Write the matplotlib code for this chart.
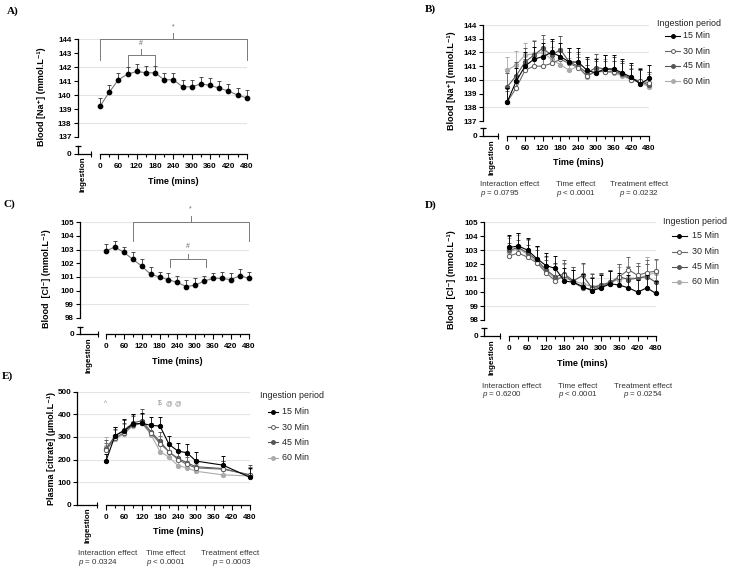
import matplotlib
matplotlib.use("Agg")
import matplotlib.pyplot as plt
from matplotlib.lines import Line2D

plt.rcParams['font.family'] = ['Liberation Sans', 'DejaVu Sans']
plt.rcParams['mathtext.fontset'] = 'custom'
plt.rcParams['mathtext.rm'] = 'Liberation Sans'
plt.rcParams['mathtext.it'] = 'Liberation Sans:italic'

W, H = 733, 572

# ---------------- data ----------------
times = [0, 30, 60, 90, 120, 150, 180, 210, 240, 270, 300, 330, 360, 390, 420, 450, 480]
times_E = [0, 30, 60, 90, 120, 150, 180, 210, 240, 270, 300, 390, 480]
x_major = [0, 60, 120, 180, 240, 300, 360, 420, 480]
x_minor = [30, 90, 150, 210, 270, 330, 390, 450]

legend_labels = ['15 Min', '30 Min', '45 Min', '60 Min']

# A) blood sodium, pooled
na_A = [139.2, 140.2, 141.1, 141.5, 141.7, 141.6, 141.6, 141.1, 141.1, 140.6, 140.6, 140.8, 140.7, 140.5, 140.3, 140.0, 139.8]
na_A_err = [0.6, 0.5, 0.5, 0.5, 0.5, 0.5, 0.5, 0.5, 0.5, 0.5, 0.5, 0.5, 0.5, 0.5, 0.5, 0.5, 0.6]

# B) blood sodium by ingestion period
na_B_15 = [138.4, 139.9, 141.0, 141.5, 141.7, 142.0, 141.7, 141.3, 141.3, 140.7, 140.5, 140.8, 140.8, 140.5, 140.2, 139.7, 140.1]
na_B_30 = [138.4, 139.4, 140.7, 141.0, 141.0, 141.2, 141.5, 141.2, 140.9, 140.3, 140.6, 140.6, 140.6, 140.4, 140.0, 139.9, 139.8]
na_B_45 = [139.5, 140.3, 141.3, 141.8, 142.3, 141.8, 142.2, 141.3, 141.0, 140.5, 140.9, 140.8, 140.7, 140.4, 140.1, 139.9, 139.6]
na_B_60 = [140.7, 141.1, 141.8, 141.9, 142.0, 141.5, 141.1, 140.7, 141.0, 140.2, 140.7, 140.6, 140.5, 140.3, 140.0, 139.8, 139.5]
na_B_15_err = [1.0, 1.0, 1.0, 0.9, 1.0, 1.0, 1.0, 1.0, 1.0, 1.0, 1.0, 1.0, 1.0, 1.0, 1.0, 1.1, 1.0]
na_B_30_err = [0.8, 0.8, 0.8, 0.8, 0.8, 0.8, 0.8, 0.8, 0.8, 0.8, 0.8, 0.8, 0.8, 0.8, 0.8, 0.8, 0.8]
na_B_45_err = [1.0, 1.0, 1.0, 1.0, 1.0, 1.0, 1.0, 1.0, 1.0, 1.0, 1.0, 1.0, 1.0, 1.0, 1.0, 1.0, 1.0]
na_B_60_err = [1.0, 1.0, 0.9, 1.0, 1.0, 0.9, 0.9, 0.9, 0.9, 0.9, 0.9, 0.9, 0.9, 0.9, 0.9, 0.9, 0.9]

# C) blood chloride, pooled
cl_C = [102.9, 103.2, 102.8, 102.3, 101.8, 101.2, 101.0, 100.8, 100.6, 100.3, 100.4, 100.7, 100.9, 100.9, 100.8, 101.1, 100.9]
cl_C_err = [0.5, 0.4, 0.4, 0.5, 0.5, 0.5, 0.4, 0.5, 0.5, 0.5, 0.5, 0.4, 0.4, 0.5, 0.5, 0.5, 0.5]

# D) blood chloride by ingestion period
cl_D_15 = [103.2, 103.3, 103.0, 102.4, 101.9, 101.7, 100.8, 100.7, 100.4, 100.1, 100.3, 100.6, 100.5, 100.3, 100.0, 100.3, 99.9]
cl_D_30 = [102.6, 102.8, 102.5, 102.1, 101.4, 100.8, 101.2, 100.7, 100.3, 100.2, 100.4, 100.6, 101.1, 101.6, 101.2, 101.4, 101.5]
cl_D_45 = [103.0, 103.2, 102.8, 102.3, 101.6, 101.1, 101.3, 100.8, 101.2, 100.3, 100.5, 100.7, 101.1, 100.9, 101.0, 101.1, 100.7]
cl_D_60 = [102.9, 103.1, 102.7, 102.2, 101.5, 101.0, 101.0, 100.8, 100.6, 100.4, 100.5, 100.7, 100.9, 101.0, 101.0, 101.2, 101.4]
cl_D_15_err = [0.9, 0.9, 0.9, 0.9, 0.9, 0.9, 0.9, 0.9, 0.9, 0.9, 0.9, 0.9, 0.9, 0.9, 0.9, 0.9, 0.9]
cl_D_30_err = [0.9, 0.9, 0.9, 0.9, 0.9, 0.9, 0.9, 0.9, 0.9, 0.9, 0.9, 0.9, 0.9, 0.9, 0.9, 0.9, 0.9]
cl_D_45_err = [1.0, 1.0, 1.0, 1.0, 1.0, 1.0, 1.0, 1.0, 0.9, 1.0, 0.9, 0.9, 0.9, 0.9, 0.9, 0.9, 0.9]
cl_D_60_err = [1.0, 1.0, 1.0, 1.0, 1.0, 1.0, 1.0, 1.0, 1.4, 1.0, 0.9, 0.9, 0.9, 0.9, 0.9, 1.3, 0.9]

# E) plasma citrate by ingestion period
cit_15 = [194, 305, 327, 357, 360, 351, 348, 267, 237, 230, 193, 175, 121]
cit_30 = [240, 295, 318, 353, 362, 318, 270, 235, 200, 178, 163, 157, 133]
cit_45 = [246, 305, 330, 362, 372, 322, 280, 233, 205, 185, 168, 160, 130]
cit_60 = [256, 290, 313, 350, 360, 310, 235, 210, 173, 163, 148, 132, 127]
cit_15_err = [30, 40, 50, 45, 45, 38, 38, 37, 37, 40, 38, 40, 40]
cit_30_err = [35, 40, 45, 40, 40, 35, 35, 33, 33, 35, 33, 35, 35]
cit_45_err = [40, 40, 45, 40, 50, 40, 40, 35, 35, 35, 35, 35, 45]
cit_60_err = [45, 40, 45, 45, 40, 35, 35, 30, 30, 30, 30, 30, 30]

stat_titles = ['Interaction effect', 'Time effect', 'Treatment effect']
stats_B = ['= 0.0795', '< 0.0001', '= 0.0232']
stats_D = ['= 0.6200', '< 0.0001', '= 0.0254']
stats_E = ['= 0.0324', '< 0.0001', '= 0.0003']

E_marks = ['^', '$', '@', '@']
E_mark_times = [0, 180, 210, 240]

# ---------------- helpers ----------------
FS_TICK = 5.8
FS_LAB = 6.5
FS_LEG = 6.4
FS_STAT = 5.8

fig = plt.figure(figsize=(W / 100, H / 100), dpi=100)


def rect(x0, y0, x1, y1):
    return [x0 / W, 1 - y1 / H, (x1 - x0) / W, (y1 - y0) / H]


def ftxt(x, y, s, **kw):
    return fig.text(x / W, 1 - y / H, s, **kw)


def bold_ticks(ax):
    for lab in ax.get_xticklabels() + ax.get_yticklabels():
        lab.set_fontweight('bold')


def panel(L, ylo, yhi, yticks, grid, ylabel, broken=True):
    span = 480.0 / (L['x480'] - L['x0'])
    xmin = -(L['x0'] - L['xl']) * span
    ybot = L['ylo'] if broken else L['y0']
    ax = fig.add_axes(rect(L['xl'], L['yhi'], L['x480'], ybot))
    ax.set_xlim(xmin, 480)
    ax.set_ylim(ylo, yhi)
    ax.patch.set_alpha(0)
    for s in ('top', 'right'):
        ax.spines[s].set_visible(False)
    ax.spines['left'].set_linewidth(0.9)
    ax.set_yticks(yticks)
    ax.tick_params(axis='y', length=2.8, width=0.8, pad=1.6, labelsize=FS_TICK)
    for g in grid:
        ax.axhline(g, color='#e4e4e4', lw=0.8, zorder=0)
    if broken:
        ax.spines['bottom'].set_visible(False)
        ax.set_xticks([])
        xa = fig.add_axes(rect(L['xl'], L['cap'], L['x480'], L['y0']))
        xa.set_xlim(xmin, 480)
        xa.set_ylim(0, 1)
        xa.patch.set_alpha(0)
        for s in ('top', 'right'):
            xa.spines[s].set_visible(False)
        xa.spines['left'].set_linewidth(0.9)
        xa.set_yticks([0])
        xa.tick_params(axis='y', length=2.8, width=0.8, pad=1.6, labelsize=FS_TICK)
        xa.plot([xmin], [1], marker='_', ms=5, mew=0.9, color='k', clip_on=False)
        bold_ticks(xa)
    else:
        xa = ax
    xa.spines['bottom'].set_linewidth(0.9)
    xa.spines['bottom'].set_bounds(0, 480)
    xa.set_xticks(x_major)
    xa.set_xticks(x_minor, minor=True)
    xa.tick_params(axis='x', which='major', length=3.5, width=0.8, pad=3, labelsize=FS_TICK)
    xa.tick_params(axis='x', which='minor', length=2, width=0.8)
    bold_ticks(ax)
    bold_ticks(xa)
    # ingestion segment
    ai = fig.add_axes(rect(L['xl'], L['y0'] - 1, L['ing'], L['y0']))
    ai.set_xlim(0, 1)
    ai.set_ylim(0, 1)
    ai.patch.set_alpha(0)
    for s in ('top', 'right', 'left'):
        ai.spines[s].set_visible(False)
    ai.spines['bottom'].set_linewidth(0.9)
    ai.set_yticks([])
    ai.set_xticks([1])
    ai.set_xticklabels([''])
    ai.tick_params(axis='x', direction='inout', length=5, width=0.8)
    ftxt(L['ingx'], L['y0'] + 3, 'Ingestion', rotation=90, ha='center', va='top',
         fontsize=FS_TICK, fontweight='bold')
    ftxt((L['x0'] + L['x480']) / 2, L['tl'], 'Time (mins)', ha='center', va='center',
         fontsize=FS_LAB, fontweight='bold')
    ftxt(L['ylx'], (L['yhi'] + L['y0']) / 2, ylabel, rotation=90, ha='center', va='center',
         fontsize=FS_LAB, fontweight='bold')
    return ax


STY = [
    dict(lc='black', ec='black', mfc='black', mec='black'),
    dict(lc='#6a6a6a', ec='#6a6a6a', mfc='white', mec='#5a5a5a'),
    dict(lc='#555555', ec='#555555', mfc='#555555', mec='#555555'),
    dict(lc='#ababab', ec='#ababab', mfc='#ababab', mec='#ababab'),
]


def draw(ax, t, m, e, st, z, ms=3.1):
    ax.errorbar(t, m, yerr=[[0] * len(e), e], color=st['lc'], ecolor=st['ec'],
                elinewidth=0.6, capsize=1.3, capthick=0.6, marker='o', ms=ms,
                mfc=st['mfc'], mec=st['mec'], mew=0.7, lw=0.8, zorder=z, clip_on=False)


def draw_groups(ax, t, means, errs):
    order = [3, 2, 1, 0]
    for k, i in enumerate(order):
        draw(ax, t, means[i], errs[i], STY[i], 3 + k)


def legend(tx, ty, hx0, hx1, lx, ys):
    ftxt(tx, ty, 'Ingestion period', fontsize=FS_LEG, va='center', ha='left', color='#222222')
    for lab, st, y in zip(legend_labels, STY, ys):
        yy = 1 - y / H
        fig.add_artist(Line2D([hx0 / W, (hx0 + hx1) / 2 / W, hx1 / W], [yy, yy, yy],
                              transform=fig.transFigure, color=st['lc'], lw=0.8,
                              marker='o', markevery=[1], ms=2.8, mfc=st['mfc'],
                              mec=st['mec'], mew=0.7))
        ftxt(lx, y, lab, fontsize=FS_LEG, va='center', ha='left', color='#222222')


def stats(xs_t, xs_p, yt, yp, vals):
    for s, x in zip(stat_titles, xs_t):
        ftxt(x, yt, s, fontsize=FS_STAT, va='center', ha='left', color='#333333')
    for v, x in zip(vals, xs_p):
        ftxt(x, yp, '$p$ ' + v, fontsize=FS_STAT, va='center', ha='left', color='#333333')


def bracket(ax, x1, x2, y, ydrop, ytick, ytext, label):
    c = '#7a7a7a'
    ax.plot([x1, x1, x2, x2], [ydrop, y, y, ydrop], color=c, lw=0.7, clip_on=False, zorder=2)
    mid = (x1 + x2) / 2
    ax.plot([mid, mid], [y, ytick], color=c, lw=0.7, clip_on=False, zorder=2)
    ax.text(mid, ytext, label, ha='center', va='center', fontsize=5, color='#666666')


def plabel(x, y, s):
    ftxt(x, y, s, fontsize=8, fontweight='bold', family='Liberation Serif', va='center', ha='left')


# ---------------- Panel A ----------------
LA = dict(xl=77.5, x0=100, x480=246.7, yhi=39.3, ylo=137, y0=153.7, cap=145.7,
          ing=90.7, ingx=83, tl=181, ylx=41.7)
axA = panel(LA, 137, 144, [137, 138, 139, 140, 141, 142, 143, 144], [138, 140, 142, 144],
            'Blood [Na⁺] (mmol.L⁻¹)')
axA.errorbar(times, na_A, yerr=[[0] * len(na_A_err), na_A_err], color='#7a7a7a', ecolor='#333333',
             elinewidth=0.6, capsize=1.3, capthick=0.6, marker='o', ms=3.1, mfc='black',
             mec='black', lw=0.8, zorder=3, clip_on=False)
bracket(axA, 0, 480, 144.0, 142.5, 144.43, 144.9, '*')
bracket(axA, 90, 180, 142.88, 142.1, 143.3, 143.7, '#')
plabel(6.7, 10.7, 'A)')

# ---------------- Panel B ----------------
LB = dict(xl=483.3, x0=507.3, x480=649, yhi=25, ylo=121, y0=136, cap=128,
          ing=498.3, ingx=491.7, tl=162.7, ylx=451.7)
axB = panel(LB, 137, 144, [137, 138, 139, 140, 141, 142, 143, 144], [138, 140, 142, 144],
            'Blood [Na⁺] (mmol.L⁻¹)')
draw_groups(axB, times, [na_B_15, na_B_30, na_B_45, na_B_60],
            [na_B_15_err, na_B_30_err, na_B_45_err, na_B_60_err])
legend(656.7, 24, 665, 680, 683, [36, 51, 66, 81])
stats([480, 555.7, 610], [480, 555.7, 619.3], 184.3, 193.3, stats_B)
plabel(425, 9, 'B)')

# ---------------- Panel C ----------------
LC = dict(xl=80, x0=106, x480=248.7, yhi=222.3, ylo=318, y0=334, cap=326.7,
          ing=97.7, ingx=89, tl=361, ylx=46.7)
axC = panel(LC, 98, 105, [98, 99, 100, 101, 102, 103, 104, 105], [99, 101, 103, 105],
            'Blood  [Cl⁻] (mmol.L⁻¹)')
axC.errorbar(times, cl_C, yerr=[[0] * len(cl_C_err), cl_C_err], color='#7a7a7a', ecolor='#333333',
             elinewidth=0.6, capsize=1.3, capthick=0.6, marker='o', ms=3.1, mfc='black',
             mec='black', lw=0.8, zorder=3, clip_on=False)
bracket(axC, 90, 480, 105.0, 103.6, 105.45, 106.0, '*')
bracket(axC, 215, 335, 102.3, 101.7, 102.7, 103.2, '#')
plabel(3.3, 204, 'C)')

# ---------------- Panel D ----------------
LD = dict(xl=484.3, x0=509.3, x480=656, yhi=222.3, ylo=320, y0=336, cap=328,
          ing=500, ingx=491.7, tl=363.3, ylx=451.7)
axD = panel(LD, 98, 105, [98, 99, 100, 101, 102, 103, 104, 105], [99, 101, 103, 105],
            'Blood  [Cl⁻] (mmol.L⁻¹)')
draw_groups(axD, times, [cl_D_15, cl_D_30, cl_D_45, cl_D_60],
            [cl_D_15_err, cl_D_30_err, cl_D_45_err, cl_D_60_err])
legend(662.7, 221.7, 671.7, 686.7, 691.7, [236, 251.7, 266.7, 281.7])
stats([481.7, 558.3, 614], [481.7, 558.3, 623], 386, 394.5, stats_D)
plabel(425, 205, 'D)')

# ---------------- Panel E ----------------
LE = dict(xl=77.3, x0=106, x480=250, yhi=391.7, ylo=504.7, y0=504.7, cap=504.7,
          ing=96.7, ingx=88.3, tl=531.7, ylx=51.3)
axE = panel(LE, 0, 500, [0, 100, 200, 300, 400, 500], [100, 200, 300, 400, 500],
            'Plasma [citrate] (µmol.L⁻¹)', broken=False)
draw_groups(axE, times_E, [cit_15, cit_30, cit_45, cit_60],
            [cit_15_err, cit_30_err, cit_45_err, cit_60_err])
for mk, tt in zip(E_marks, E_mark_times):
    axE.text(tt, 448, mk, ha='center', va='center', fontsize=4.8, color='#8a8a8a')
legend(260, 395.7, 268.3, 277.5, 282, [411.7, 427.3, 442.3, 457.7])
stats([78.3, 146, 201], [78.3, 146, 211.7], 553.3, 562.7, stats_E)
plabel(1.7, 376, 'E)')

fig.savefig('out.png', dpi=100)
